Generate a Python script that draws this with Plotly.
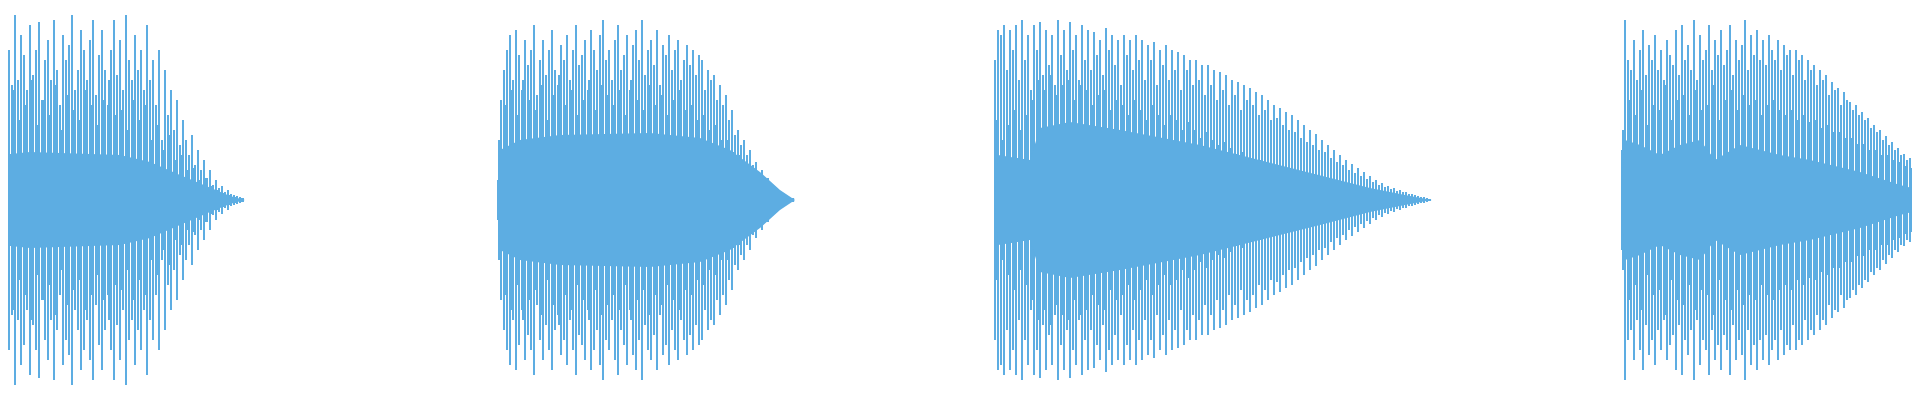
import plotly.graph_objects as go

# waveform: four bursts; peaks every 3 samples, amplitude in px-ish units
STEP = 3
MID_STEP = 6
burst_starts = [0, 498, 995, 1622]

peaks_1 = [100, 135, 160, 150, 115, 185, 120, 165, 145, 110, 175, 125, 150, 178, 100, 140, 160, 120, 180, 130,
           95, 165, 140, 155, 185, 110, 130, 170, 150, 120, 160, 180, 105, 145, 170, 130, 95, 150, 180, 125,
           160, 110, 185, 140, 120, 165, 130,
           150, 110, 175, 120, 140, 95, 150, 60, 130, 85, 110, 70, 100, 55, 80, 60, 45, 65, 35, 50,
           30, 40, 22, 30, 15, 20, 12, 14, 8, 10, 6, 5, 4, 3, 2]
peaks_2 = [20, 100, 130, 150, 165, 120, 170, 145, 110, 160, 135, 150, 175, 105, 140, 160, 125, 150, 170, 130,
           115, 155, 140, 165, 120, 150, 175, 135, 145, 160, 110, 170, 150, 130, 165, 180, 140, 150, 120, 160,
           175, 130, 145, 165, 110, 155, 170, 140, 180, 125, 150, 160, 135, 170, 115, 155, 145, 165, 130, 150,
           160, 120, 140, 155, 135, 150, 125, 145, 140, 110, 130, 120, 125, 100, 115, 95, 105, 80, 90, 65,
           70, 55, 60, 45, 50, 35, 38, 28, 30, 20, 22, 15, 14, 10, 8, 6, 4, 3, 2]
peaks_3 = [140, 170, 165, 175, 130, 170, 150, 175, 120, 180, 140, 165, 110, 175, 150, 178, 125, 170, 135, 165,
           115, 180, 145, 170, 130, 178, 150, 165, 120, 175, 140, 170, 130, 168, 145, 160, 125, 172, 150, 165,
           135, 160, 115, 165, 145, 160, 130, 165, 140,
           160, 120, 155, 140, 158, 115, 150, 135, 155, 120, 150, 130, 148, 110, 145, 130, 140, 115, 140, 120,
           135, 105, 135, 115, 130, 100, 128, 110, 125, 95, 120, 105, 118, 90, 115, 100, 112,
           95, 108, 85, 105, 90, 100, 80, 95, 82, 92, 75, 88, 70, 85, 68, 80, 62, 75, 58, 70, 55, 66, 50, 60,
           48, 55, 42, 50, 38, 45, 35, 40, 30, 36, 27, 32, 24, 28, 21, 24, 18, 20, 15, 17, 13, 14, 11, 12, 9,
           10, 8, 8, 6, 6, 5, 4, 3, 3, 2, 1]
peaks_4 = [50, 180, 140, 130, 160, 120, 150, 170, 125, 155, 140, 165, 130, 150, 120, 160, 145, 135, 170, 125,
           175, 140, 155, 130, 180, 120, 165, 140, 150, 175, 130, 160, 145, 170, 135, 150, 175, 125, 160, 140,
           155, 180, 130, 165, 145, 170, 140, 160, 135, 165, 150, 140, 160, 130, 155, 145, 150, 125, 150, 140,
           145, 120, 140, 130, 135, 115, 130, 120, 125, 105, 118, 110, 112, 95, 108, 100, 98, 90, 95, 85,
           88, 80, 82, 72, 75, 68, 70, 60, 64, 55, 58, 50, 52, 45, 46, 40, 42, 35, 36, 30]
peaks = [peaks_1, peaks_2, peaks_3, peaks_4]

# in-between bars (shorter), every 6 samples, shifted half a step
mid_1 = [90, 70, 110, 80, 95, 120, 75, 100, 85, 115, 70, 105, 90, 80, 110, 95, 75, 100, 120, 85,
         90, 70, 100, 80, 95, 60, 75, 50, 65, 40, 45, 30, 32, 20, 22, 14, 10, 7, 5, 3, 2]
mid_2 = [60, 95, 110, 85, 120, 100, 90, 115, 80, 105, 125, 95, 110, 85, 100, 120, 90, 115, 105, 95,
         110, 85, 120, 100, 90, 115, 95, 105, 85, 100, 110, 90, 95, 80, 85, 70, 75, 60, 60, 48,
         45, 35, 30, 25, 20, 14, 10, 7, 4, 2]
mid_3 = [80, 60, 75, 90, 70, 85, 100, 120, 110, 125, 105, 115, 120, 100, 115, 110, 95, 105, 110, 90,
         100, 95, 85, 100, 90, 80, 95, 85, 75, 85, 80, 70, 78, 70, 62, 68, 60, 55, 58, 52,
         46, 48, 42, 38, 40, 34, 30, 32, 27, 24, 24, 20, 18, 17, 14, 12, 12, 10, 8, 8,
         6, 5, 5, 4, 3, 3, 2, 2, 2, 1, 1, 1, 1]
mid_4 = [70, 100, 85, 110, 75, 95, 90, 115, 80, 100, 105, 85, 110, 90, 95, 115, 80, 100, 110, 90,
         105, 95, 100, 85, 95, 100, 90, 85, 90, 80, 85, 78, 80, 72, 75, 68, 68, 62, 62, 56,
         56, 50, 50, 45, 45, 40, 38, 34, 32, 28]
mids = [mid_1, mid_2, mid_3, mid_4]

# dense inner body of each burst: (sample, amplitude)
body_x = [[0, 30, 120, 150, 180, 210, 230, 245],
          [498, 500, 520, 560, 650, 700, 730, 760, 780, 795],
          [995, 998, 1030, 1040, 1070, 1120, 1200, 1260, 1320, 1370, 1410, 1432],
          [1622, 1625, 1640, 1660, 1680, 1700, 1715, 1740, 1780, 1810, 1860, 1900, 1920]]
body_amp = [[45, 48, 45, 38, 25, 12, 4, 0],
            [15, 50, 60, 65, 67, 62, 50, 28, 10, 0],
            [5, 45, 40, 72, 78, 70, 55, 40, 25, 12, 4, 0],
            [20, 60, 55, 45, 55, 60, 40, 55, 45, 40, 28, 15, 10]]

COLOR = "#5DADE2"

fig = go.Figure()
for bx, ba in zip(body_x, body_amp):
    fig.add_trace(go.Scatter(x=bx + bx[::-1], y=ba + [-a for a in ba[::-1]],
                             fill="toself", fillcolor=COLOR, mode="lines",
                             line=dict(width=0, color=COLOR), hoverinfo="skip"))
for start, pk, md in zip(burst_starts, peaks, mids):
    xs = [start + STEP * i for i in range(len(pk))]
    fig.add_trace(go.Bar(x=xs, y=[2 * a for a in pk], base=[-a for a in pk],
                         width=1.3, marker=dict(color=COLOR, line=dict(width=0))))
    xm = [start + 1.5 + MID_STEP * i for i in range(len(md))]
    fig.add_trace(go.Bar(x=xm, y=[2 * a for a in md], base=[-a for a in md],
                         width=1.3, marker=dict(color=COLOR, line=dict(width=0))))

# page body has an 8px margin, so shift the ranges to keep the picture aligned
fig.update_layout(width=1920, height=400, showlegend=False, barmode="overlay",
                  margin=dict(l=0, r=0, t=0, b=0),
                  plot_bgcolor="white", paper_bgcolor="white")
fig.update_xaxes(range=[8, 1928], visible=False)
fig.update_yaxes(range=[-208, 192], visible=False)
fig.write_html("out.html")
